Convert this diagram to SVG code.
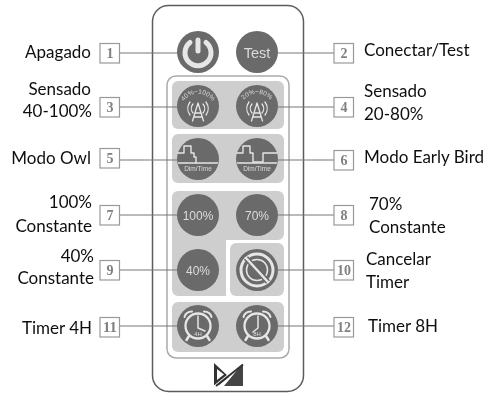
<svg xmlns="http://www.w3.org/2000/svg" xmlns:xlink="http://www.w3.org/1999/xlink" width="486" height="395" viewBox="0 0 486 395">
<style>
svg>g{filter:url(#s)}
.lb{font-family:"Lato","Noto Sans",sans-serif;font-size:17px;fill:#111}
.e{text-anchor:end}
.box{fill:#fff;stroke:#999;stroke-width:1.2}
.n{font-family:"Liberation Serif",serif;font-size:14px;fill:#808080;text-anchor:middle;font-weight:bold}
.btn{fill:#6a6a6a}
.pn{fill:#cecece}
.w{fill:none;stroke:#e6e6e6;stroke-linecap:round;stroke-linejoin:round}
.bt{font-family:"Liberation Sans",sans-serif;fill:#dcdcdc;text-anchor:middle}
.cn{fill:none;stroke:#777;stroke-width:1.2}
</style>
<defs>
<filter id="s" x="-5%" y="-5%" width="110%" height="110%"><feGaussianBlur stdDeviation="0.3"/></filter>
<g id="sig" class="w">
<path d="M-5.500 16L0 -2L5.500 16M-3 8H3M-4.200 12H4.200" stroke-width="1.300"/>
<path d="M-5 -1a7 7 0 0 0 0 9M5 -1a7 7 0 0 1 0 9M-8 -3a11 11 0 0 0 0 13M8 -3a11 11 0 0 1 0 13" stroke-width="1.300"/>
</g>
<path id="arc" d="M-16 -1A17 17 0 0 1 16 -1"/>
<g id="dim">
<path class="w" d="M-19.500 4H19.500" stroke-width="1.500"/>
<text class="bt" y="12" font-size="6.500">Dim/Time</text>
</g>
<g id="clk" class="w">
<circle r="12.500" cy="1" stroke-width="2.300"/>
<path d="M-13.500 -8A8 7 0 0 1 -6 -13.500M13.500 -8A8 7 0 0 0 6 -13.500" stroke-width="2"/>
<path d="M-9 11L-11.500 15M9 11L11.500 15" stroke-width="2.500"/>
</g>
</defs>

<g id="remote">
<rect x="152.500" y="5.500" width="151" height="386" rx="16" fill="#fff" stroke="#5c5c5c" stroke-width="1.500"/>
<rect x="167" y="76" width="122" height="282" rx="9" fill="#fff" stroke="#ababab" stroke-width="1.500"/>
<rect class="pn" x="172" y="81" width="112" height="48" rx="6"/>
<rect class="pn" x="172" y="134" width="112" height="49" rx="6"/>
<path class="pn" d="M178 191H278a6 6 0 0 1 6 6V234a6 6 0 0 1 -6 6H226V296H178a6 6 0 0 1 -6 -6V197a6 6 0 0 1 6 -6Z"/>
<rect class="pn" x="230" y="243" width="54" height="53" rx="6"/>
<rect class="pn" x="172" y="302" width="112" height="50" rx="6"/>
</g>

<g id="connectors">
<path class="cn" d="M120 53H180M120 107H180M120 160H180M120 215H180M120 270H180M120 326H180M354 53H278M354 107H278M354 160H278M354 215H278M354 270H278M354 326H278"/>
</g>

<g id="n1">
<text class="lb e" x="91" y="58">Apagado</text>
<rect class="box" x="100" y="43.500" width="19.500" height="19.500"/><text class="n" x="110" y="58">1</text>
<circle class="btn" cx="198" cy="52" r="21"/>
<path class="w" d="M190 42.500A13 13 0 1 0 206 42.500" stroke-width="5" stroke-linecap="butt"/>
<rect x="195.500" y="37.500" width="5" height="16" rx="2.500" fill="#e6e6e6"/>
</g>
<g id="n2">
<text class="lb" x="364" y="56">Conectar/Test</text>
<rect class="box" x="334" y="43.500" width="19.500" height="19.500"/><text class="n" x="344" y="58">2</text>
<circle class="btn" cx="257" cy="52" r="21"/>
<text class="bt" x="257" y="58" font-size="14.500">Test</text>
</g>
<g id="n3">
<text class="lb e" x="91" y="95">Sensado</text><text class="lb e" x="92" y="117">40-100%</text>
<rect class="box" x="100" y="97.500" width="19.500" height="19.500"/><text class="n" x="110" y="112">3</text>
<circle class="btn" cx="198" cy="106" r="21"/>
<use xlink:href="#sig" x="198" y="105"/>
<g transform="translate(198 106)"><text class="bt" font-size="6.500"><textPath xlink:href="#arc" startOffset="50%">40%~100%</textPath></text></g>
</g>
<g id="n4">
<text class="lb" x="364" y="97">Sensado</text><text class="lb" x="364" y="120">20-80%</text>
<rect class="box" x="334" y="97.500" width="19.500" height="19.500"/><text class="n" x="344" y="112">4</text>
<circle class="btn" cx="257" cy="106" r="21"/>
<use xlink:href="#sig" x="257" y="105"/>
<g transform="translate(257 106)"><text class="bt" font-size="6.500"><textPath xlink:href="#arc" startOffset="50%">20%~80%</textPath></text></g>
</g>
<g id="n5">
<text class="lb e" x="91" y="164">Modo Owl</text>
<rect class="box" x="100" y="148.500" width="19.500" height="19.500"/><text class="n" x="110" y="163">5</text>
<circle class="btn" cx="198" cy="159" r="21"/>
<use xlink:href="#dim" x="198" y="159"/>
<path class="w" d="M178 153H184V146H191V153H194V157H196V163" stroke-width="1.400"/>
</g>
<g id="n6">
<text class="lb" x="364" y="163">Modo Early Bird</text>
<rect class="box" x="334" y="150.500" width="19.500" height="19.500"/><text class="n" x="344" y="165">6</text>
<circle class="btn" cx="257" cy="159" r="21"/>
<use xlink:href="#dim" x="257" y="159"/>
<path class="w" d="M237 153H243V146H250V153H253V162H263V153H277" stroke-width="1.400"/>
</g>
<g id="n7">
<text class="lb e" x="92" y="208">100%</text><text class="lb e" x="92" y="232">Constante</text>
<rect class="box" x="100" y="205.500" width="19.500" height="19.500"/><text class="n" x="110" y="220">7</text>
<circle class="btn" cx="198" cy="215" r="21"/>
<text class="bt" x="198" y="220" font-size="12">100%</text>
</g>
<g id="n8">
<text class="lb" x="369" y="210">70%</text><text class="lb" x="369" y="233">Constante</text>
<rect class="box" x="334" y="205.500" width="19.500" height="19.500"/><text class="n" x="344" y="220">8</text>
<circle class="btn" cx="257" cy="215" r="21"/>
<text class="bt" x="257" y="220" font-size="12">70%</text>
</g>
<g id="n9">
<text class="lb e" x="94" y="262">40%</text><text class="lb e" x="94" y="284">Constante</text>
<rect class="box" x="100" y="260.500" width="19.500" height="19.500"/><text class="n" x="110" y="275">9</text>
<circle class="btn" cx="198" cy="270" r="21"/>
<text class="bt" x="198" y="275" font-size="12">40%</text>
</g>
<g id="n10">
<text class="lb" x="366" y="265">Cancelar</text><text class="lb" x="366" y="288">Timer</text>
<rect class="box" x="334" y="260.500" width="19.500" height="19.500"/><text class="n" x="344" y="275" textLength="14" lengthAdjust="spacingAndGlyphs">10</text>
<circle class="btn" cx="257" cy="270" r="21"/>
<circle class="w" cx="257" cy="270" r="16" stroke-width="3"/>
<circle class="w" cx="257" cy="270" r="10.500" stroke-width="1.500"/>
<path d="M246 258L268 282" stroke="#6a6a6a" stroke-width="5.500" fill="none"/>
<path class="w" d="M246 258L268 282" stroke-width="2.500" stroke-linecap="butt"/>
</g>
<g id="n11">
<text class="lb e" x="92" y="334">Timer 4H</text>
<rect class="box" x="100" y="317.500" width="19.500" height="19.500"/><text class="n" x="110" y="332" textLength="14" lengthAdjust="spacingAndGlyphs">11</text>
<circle class="btn" cx="198" cy="326" r="21"/>
<use xlink:href="#clk" x="198" y="325"/>
<path class="w" d="M198 316V328L205 331" stroke-width="1.500"/>
<text class="bt" x="198" y="336" font-size="6">4H</text>
</g>
<g id="n12">
<text class="lb" x="368" y="332">Timer 8H</text>
<rect class="box" x="334" y="317.500" width="19.500" height="19.500"/><text class="n" x="344" y="332" textLength="14" lengthAdjust="spacingAndGlyphs">12</text>
<circle class="btn" cx="257" cy="326" r="21"/>
<use xlink:href="#clk" x="257" y="325"/>
<path class="w" d="M258 316V328L253 332" stroke-width="1.500"/>
<text class="bt" x="257" y="336" font-size="6">8H</text>
</g>

<g id="logo">
<path d="M214 363L229 377L219 385H214Z" fill="#333"/>
<path d="M217 369V380L224 374.500Z" fill="#fff"/>
<path d="M243 363V386H224Z" fill="#444"/>
<path d="M213 387L243 363" fill="none" stroke="#fff" stroke-width="1.500"/>
<path d="M216 386L243 364.500" fill="none" stroke="#333" stroke-width="2"/>
</g>
</svg>
